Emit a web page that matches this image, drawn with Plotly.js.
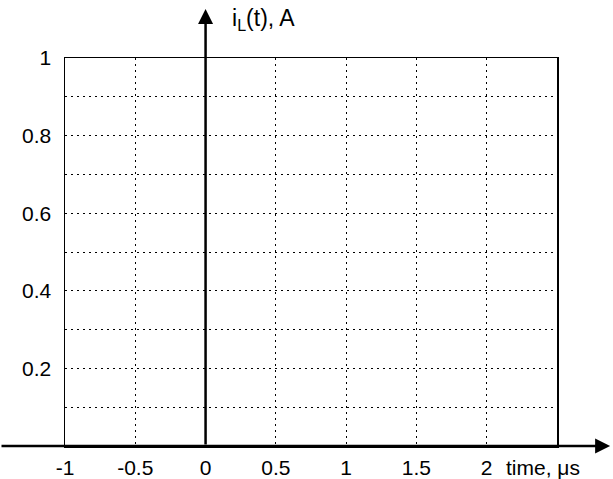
<!DOCTYPE html>
<html>
<head>
<meta charset="utf-8">
<script src="https://cdn.plot.ly/plotly-3.0.1.min.js"></script>
<style>
  body { margin: 0; background: #fff; }
  #chart { width: 613px; height: 479px; }
</style>
</head>
<body>
<div id="chart"></div>
<script>
// axis ticks
const xTicks = [-1, -0.5, 0, 0.5, 1, 1.5, 2];
const xTickText = ["-1", "-0.5", "0", "0.5", "1", "1.5", "2"];
const yTicks = [0.1, 0.2, 0.3, 0.4, 0.5, 0.6, 0.7, 0.8, 0.9, 1];
const yTickText = ["", "0.2", "", "0.4", "", "0.6", "", "0.8", "", "1"];
const xRange = [-1, 2.5];
const yRange = [0, 1];

const font = { family: "Arial, 'Liberation Sans', sans-serif", size: 21, color: "#000" };
const dots = "2px,4px";

// empty plot, only the grid and the axes
const traces = [{ x: [], y: [], type: "scatter", mode: "lines", hoverinfo: "skip" }];

const layout = {
    width: 613,
    height: 479,
    margin: { l: 65, r: 56, t: 58, b: 33 },
    paper_bgcolor: "#fff",
    plot_bgcolor: "#fff",
    showlegend: false,
    font: font,
    xaxis: {
        range: xRange,
        tickvals: xTicks,
        ticktext: xTickText,
        tickfont: font,
        ticks: "",
        ticklabelstandoff: 2,
        showgrid: true,
        gridcolor: "#000",
        gridwidth: 1,
        griddash: dots,
        zeroline: false,
        showline: true,
        mirror: true,
        linecolor: "#000",
        linewidth: 1.5,
        fixedrange: true
    },
    yaxis: {
        range: yRange,
        tickvals: yTicks,
        ticktext: yTickText,
        tickfont: font,
        ticks: "",
        ticklabelstandoff: 8,
        showgrid: true,
        gridcolor: "#000",
        gridwidth: 1,
        griddash: dots,
        zeroline: false,
        showline: true,
        mirror: true,
        linecolor: "#000",
        linewidth: 1.5,
        fixedrange: true
    },
    annotations: [
        // horizontal axis arrow, runs across the whole page
        {
            xref: "paper", yref: "y", x: 1.108, y: 0,
            ax: -612, ay: 0, text: "", showarrow: true,
            arrowhead: 2, arrowsize: 1.2, arrowwidth: 2.5, arrowcolor: "#000", standoff: 0
        },
        // vertical axis arrow at t = 0
        {
            xref: "x", yref: "paper", x: 0, y: 1.126,
            ax: 0, ay: 437, text: "", showarrow: true,
            arrowhead: 2, arrowsize: 1.2, arrowwidth: 2.5, arrowcolor: "#000", standoff: 0
        },
        {
            xref: "paper", yref: "paper", x: 0.335, y: 1.1,
            xanchor: "left", yanchor: "middle", showarrow: false,
            text: "i<sub>L</sub>(t), A", font: { ...font, size: 23 }
        },
        {
            xref: "paper", yref: "paper", x: 0.972, y: 0,
            xanchor: "center", yanchor: "top", yshift: -8, showarrow: false,
            text: "time, \u03bcs", font: font
        }
    ]
};

Plotly.newPlot("chart", traces, layout, { displayModeBar: false, staticPlot: true });
</script>
</body>
</html>
